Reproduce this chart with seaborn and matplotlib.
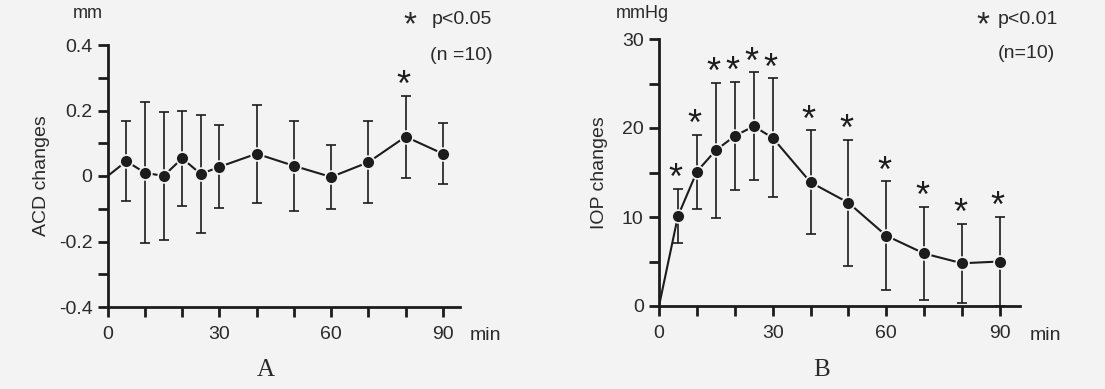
import numpy as np
import pandas as pd
import matplotlib
matplotlib.use("Agg")
import matplotlib.pyplot as plt
import seaborn as sns

# ---------------- data ----------------
times = [0, 5, 10, 15, 20, 25, 30, 40, 50, 60, 70, 80, 90]

acd_mean = [0, 0.045, 0.010, 0.000, 0.054, 0.006, 0.028, 0.068, 0.031, -0.003, 0.042, 0.120, 0.068]
acd_sd = [0, 0.122, 0.215, 0.194, 0.146, 0.181, 0.127, 0.150, 0.137, 0.097, 0.125, 0.125, 0.093]
acd_sig = [False, False, False, False, False, False, False, False, False, False, False, True, False]

iop_mean = [0, 10.1, 15.1, 17.5, 19.1, 20.2, 18.9, 13.9, 11.6, 7.9, 5.9, 4.8, 5.0]
iop_sd = [0, 3.05, 4.15, 7.6, 6.1, 6.05, 6.7, 5.85, 7.05, 6.1, 5.25, 4.45, 5.0]
iop_sig = [False, True, True, True, True, True, True, True, True, True, True, True, True]

x_ticks = [0, 10, 20, 30, 40, 50, 60, 70, 80, 90]
x_ticklabels = ["0", "", "", "30", "", "", "60", "", "", "90"]
acd_ticks = [-0.4, -0.3, -0.2, -0.1, 0, 0.1, 0.2, 0.3, 0.4]
acd_ticklabels = ["-0.4", "", "-0.2", "", "0", "", "0.2", "", "0.4"]
iop_ticks = [0, 5, 10, 15, 20, 25, 30]
iop_ticklabels = ["0", "", "10", "", "20", "", "30"]

# ---------------- style ----------------
BG = "#f3f3f4"
INK = "#1c1c1c"
sns.set_theme(style="white")
plt.rcParams["font.family"] = ["Liberation Sans", "DejaVu Sans"]
plt.rcParams["text.color"] = "#2a2a2a"
plt.rcParams["axes.labelcolor"] = "#2a2a2a"
plt.rcParams["xtick.color"] = INK
plt.rcParams["ytick.color"] = INK
plt.rcParams["xtick.labelcolor"] = "#2a2a2a"
plt.rcParams["ytick.labelcolor"] = "#2a2a2a"

W, H = 1105, 389
fig = plt.figure(figsize=(W / 100, H / 100), dpi=100, facecolor=BG)

axA = fig.add_axes([107.7 / W, 1 - 307 / H, (460 - 107.7) / W, (307 - 45) / H])
axB = fig.add_axes([659 / W, 1 - 306 / H, (1020 - 659) / W, (306 - 39) / H])


def draw(ax, mean, sd, sig, ylim, yticks, yticklabels, xmax):
    ax.set_facecolor(BG)
    df = pd.DataFrame({"t": times, "m": mean, "s": sd})
    pts = df[df["t"] > 0]
    ax.errorbar(pts["t"], pts["m"], yerr=pts["s"], fmt="none", ecolor=INK,
                elinewidth=1.2, capsize=3.5, capthick=1.2, zorder=2)
    sns.lineplot(data=df, x="t", y="m", ax=ax, color=INK, lw=1.5, zorder=3,
                 estimator=None, sort=False)
    sns.scatterplot(data=pts, x="t", y="m", ax=ax, color=INK, s=85,
                    edgecolor=BG, linewidth=1.2, zorder=4)
    for t, m, s, g in zip(times, mean, sd, sig):
        if g:
            ax.annotate("*", xy=(t, m + s), xytext=(-1.5, -6), textcoords="offset points",
                        ha="center", va="bottom", fontsize=26, color=INK,
                        fontfamily="Liberation Sans")
    ax.set_xlim(0, xmax)
    ax.set_ylim(*ylim)
    ax.set_xticks(x_ticks)
    ax.set_xticklabels(x_ticklabels)
    ax.set_yticks(yticks)
    ax.set_yticklabels(yticklabels)
    ax.tick_params(axis="both", direction="out", length=7, width=2,
                   labelsize=14, pad=4, bottom=True, left=True)
    ax.tick_params(axis="x", pad=7)
    for side in ("top", "right"):
        ax.spines[side].set_visible(False)
    for side in ("left", "bottom"):
        ax.spines[side].set_linewidth(2)
        ax.spines[side].set_color(INK)
    ax.set_xlabel("")
    ax.grid(False)


draw(axA, acd_mean, acd_sd, acd_sig, (-0.4, 0.4), acd_ticks, acd_ticklabels, 94.6)
draw(axB, iop_mean, iop_sd, iop_sig, (0, 30), iop_ticks, iop_ticklabels, 95.3)

axA.set_ylabel("ACD changes", fontsize=14, labelpad=6)
axB.set_ylabel("IOP changes", fontsize=14, labelpad=10)

# panel A texts
fig.text(88 / W, 1 - 14 / H, "mm", fontsize=13, ha="center", va="center")
fig.text(410 / W, 1 - 26 / H, "*", fontsize=24, ha="center", va="center")
fig.text(432 / W, 1 - 20 / H, "p<0.05", fontsize=14, ha="left", va="center")
fig.text(430 / W, 1 - 55 / H, "(n =10)", fontsize=14, ha="left", va="center")
fig.text(485 / W, 1 - 335 / H, "min", fontsize=14, ha="center", va="center")
fig.text(266 / W, 1 - 370 / H, "A", fontsize=18, ha="center", va="center",
         fontfamily="Liberation Serif")

# panel B texts
fig.text(642 / W, 1 - 13 / H, "mmHg", fontsize=13, ha="center", va="center")
fig.text(983 / W, 1 - 26 / H, "*", fontsize=24, ha="center", va="center")
fig.text(998 / W, 1 - 20 / H, "p<0.01", fontsize=14, ha="left", va="center")
fig.text(998 / W, 1 - 53 / H, "(n=10)", fontsize=14, ha="left", va="center")
fig.text(1045 / W, 1 - 335 / H, "min", fontsize=14, ha="center", va="center")
fig.text(822 / W, 1 - 370 / H, "B", fontsize=18, ha="center", va="center",
         fontfamily="Liberation Serif")

fig.savefig("out.png", dpi=100, facecolor=BG)
